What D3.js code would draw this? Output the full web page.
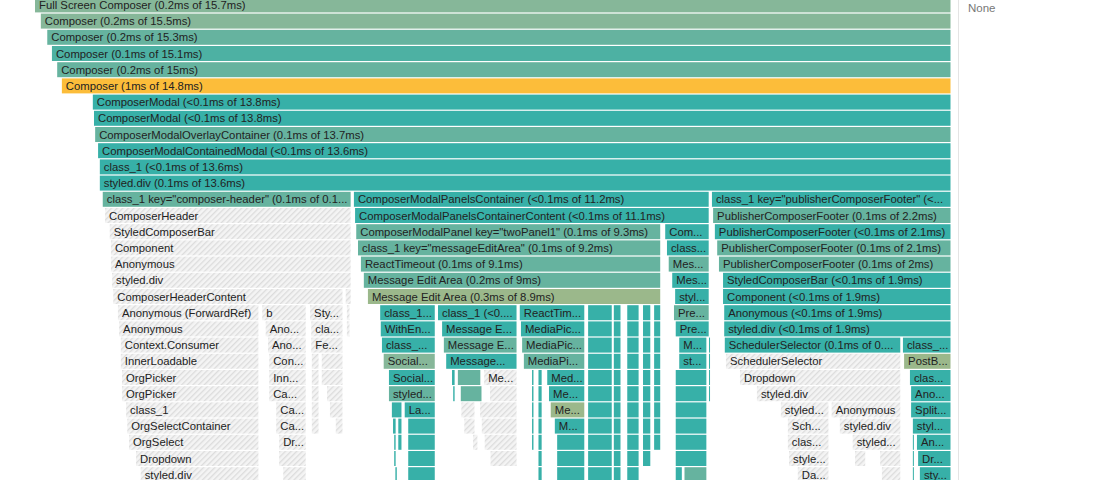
<!DOCTYPE html>
<html><head><meta charset="utf-8">
<script src="https://cdn.jsdelivr.net/npm/d3@7/dist/d3.min.js"></script>
<style>body{margin:0;background:#fff;overflow:hidden}svg{display:block}</style>
</head><body><svg id="c" width="1111" height="480"></svg>
<script>
// [depth, startMs, endMs, label, kind]  kind: g1,g2,t,y,o,h
const totalMs = 15.7;
const topFrames = [
 [0,0,15.7,"Full Screen Composer (0.2ms of 15.7ms)","g1"],
 [1,0.10,15.7,"Composer (0.2ms of 15.5ms)","g1"],
 [2,0.21,15.7,"Composer (0.2ms of 15.3ms)","g2"],
 [3,0.29,15.7,"Composer (0.1ms of 15.1ms)","t2"],
 [4,0.38,15.7,"Composer (0.2ms of 15ms)","g2"],
 [5,0.46,15.7,"Composer (1ms of 14.8ms)","y"],
 [6,0.99,15.7,"ComposerModal (<0.1ms of 13.8ms)","t"],
 [7,1.01,15.7,"ComposerModal (<0.1ms of 13.8ms)","t"],
 [8,1.03,15.7,"ComposerModalOverlayContainer (0.1ms of 13.7ms)","g2"],
 [9,1.08,15.7,"ComposerModalContainedModal (<0.1ms of 13.6ms)","t"],
 [10,1.11,15.7,"class_1 (<0.1ms of 13.6ms)","t"],
 [11,1.11,15.7,"styled.div (0.1ms of 13.6ms)","t"]
];
const headerFrames = [
 [12,1.16,5.43,"class_1 key=\"composer-header\" (0.1ms of 0.1ms)","g2"],
 [13,1.20,5.43,"ComposerHeader","h"],
 [14,1.28,5.43,"StyledComposerBar","h"],
 [15,1.30,5.43,"Component","h"],
 [16,1.30,5.43,"Anonymous","h"],
 [17,1.32,5.43,"styled.div","h"],
 [18,1.34,5.29,"ComposerHeaderContent","h"],[18,5.32,5.43,"","h"],
 [19,1.42,3.85,"Anonymous (ForwardRef)","h"],[19,3.89,4.66,"b","h"],[19,4.71,5.29,"StyledFeedback","h"],[19,5.34,5.41,"","h"],
 [20,1.44,3.85,"Anonymous","h"],[20,3.95,4.66,"Anonymous","h"],[20,4.73,5.29,"class_1","h"],[20,5.34,5.41,"","h"],
 [21,1.47,3.85,"Context.Consumer","h"],[21,3.99,4.66,"Anonymous","h"],[21,4.73,5.29,"Feedback","h"],
 [22,1.47,3.85,"InnerLoadable","h"],[22,4.01,4.66,"Context.Consumer","h"],[22,4.74,4.88,"","h"],[22,4.91,5.29,"","h"],
 [23,1.49,3.85,"OrgPicker","h"],[23,4.01,4.66,"InnerLoadable","h"],[23,4.74,4.88,"","h"],[23,4.91,5.29,"","h"],
 [24,1.49,3.85,"OrgPicker","h"],[24,4.01,4.66,"CampaignSelector","h"],[24,4.74,4.88,"","h"],[24,5.0,5.29,"","h"],
 [25,1.56,3.85,"class_1","h"],[25,4.13,4.66,"CampaignSelector","h"],[25,4.74,4.88,"","h"],[25,5.05,5.29,"","h"],
 [26,1.58,3.85,"OrgSelectContainer","h"],[26,4.13,4.66,"CampaignSelect","h"],[26,4.74,4.88,"","h"],[26,5.15,5.29,"","h"],
 [27,1.61,3.85,"OrgSelect","h"],[27,4.18,4.66,"Dropdown","h"],
 [28,1.73,3.85,"Dropdown","h"],[28,4.18,4.66,"","h"],
 [29,1.81,3.85,"styled.div","h"],[29,4.25,4.66,"","h"]
];
const editFrames = [
 [12,5.46,11.56,"ComposerModalPanelsContainer (<0.1ms of 11.2ms)","t"],
 [13,5.48,11.56,"ComposerModalPanelsContainerContent (<0.1ms of 11.1ms)","t"],
 [14,5.50,10.73,"ComposerModalPanel key=\"twoPanel1\" (0.1ms of 9.3ms)","g2"],[14,10.79,11.56,"ComposerModalPanel","t"],
 [15,5.53,10.73,"class_1 key=\"messageEditArea\" (0.1ms of 9.2ms)","g2"],[15,10.82,11.56,"class_1 key","t"],
 [16,5.58,10.73,"ReactTimeout (0.1ms of 9.1ms)","g2"],[16,10.85,11.56,"MessageSidebar","g2"],
 [17,5.63,10.73,"Message Edit Area (0.2ms of 9ms)","g2"],[17,10.91,11.56,"MessageSidebar","t"],
 [18,5.70,10.73,"Message Edit Area (0.3ms of 8.9ms)","o"],[18,10.96,11.56,"styled.div","t"],
 [19,5.91,6.87,"class_1 key","t"],[19,6.90,8.27,"class_1 (<0.1ms of 1.2ms)","t"],[19,8.30,9.43,"ReactTimeout","t"],[19,10.94,11.56,"Preview","g2"],
 [20,5.92,6.87,"WithEntities","t"],[20,6.97,8.27,"Message Editor","t"],[20,8.32,9.43,"MediaPicker","t"],[20,10.97,11.56,"Preview","t"],
 [21,5.94,6.87,"class_1 key","t"],[21,7.00,8.27,"Message Editor","g2"],[21,8.34,9.43,"MediaPicker","g2"],[21,11.03,11.52,"Message","t"],[21,11.54,11.56,"","t"],
 [22,5.97,6.87,"Social Network","g1"],[22,7.04,8.27,"Message Editor","t"],[22,8.37,9.43,"MediaPicker","g2"],[22,11.03,11.52,"styled.div","t"],[22,11.54,11.56,"","t"],
 [23,6.06,6.87,"Social Icon","t"],[23,7.14,7.21,"","t"],[23,7.24,7.65,"","g2"],[23,7.69,8.27,"Message","h"],[23,8.51,8.56,"","t"],[23,8.62,8.70,"","t"],[23,8.77,9.43,"MediaPicker","t"],[23,10.97,11.52,"","t"],[23,11.54,11.56,"","t"],
 [24,6.06,6.87,"styled.div","g2"],[24,7.16,7.21,"","t"],[24,7.29,7.67,"","g2"],[24,7.79,8.27,"","h"],[24,8.51,8.56,"","t"],[24,8.62,8.70,"","t"],[24,8.80,9.43,"MediaPicker","t"],[24,10.97,11.52,"","t"],[24,11.54,11.56,"","t"],
 [25,6.11,6.30,"","t"],[25,6.33,6.87,"Label","t"],[25,7.30,7.55,"","h"],[25,7.62,8.27,"","h"],[25,8.51,8.56,"","t"],[25,8.62,8.70,"","t"],[25,8.83,9.43,"Media","o"],[25,10.97,11.52,"","t"],
 [26,6.13,6.20,"","t"],[26,6.22,6.30,"","t"],[26,6.39,6.87,"","t"],[26,7.35,7.55,"","h"],[26,7.65,8.27,"","h"],[26,8.51,8.56,"","t"],[26,8.62,8.70,"","t"],[26,8.90,9.43,"Media","t"],[26,10.97,11.52,"","t"],
 [27,6.15,6.20,"","t"],[27,6.22,6.30,"","t"],[27,6.39,6.87,"","t"],[27,7.50,7.60,"","h"],[27,7.70,8.27,"","h"],[27,8.51,8.56,"","t"],[27,8.62,8.70,"","t"],[27,8.94,9.43,"","t"],[27,10.97,11.52,"","t"],
 [28,6.15,6.20,"","t"],[28,6.39,6.87,"","t"],[28,7.80,8.27,"","h"],[28,8.62,8.70,"","t"],[28,8.94,9.43,"","t"],[28,10.97,11.52,"","t"],
 [29,6.17,6.22,"","t"],[29,6.39,6.87,"","t"],[29,8.62,8.70,"","t"],[29,8.94,9.43,"","t"],[29,10.97,11.10,"","t"],[29,11.12,11.52,"","g2"]
];
const columnFrames = [ // [fromDepth,toDepth,start,end,kind]
 [19,29,9.47,9.90,"t"],[19,29,9.91,10.05,"t"],[19,29,10.14,10.36,"t"],[19,28,10.41,10.56,"t"],[19,27,10.60,10.73,"t"]
];
const footerFrames = [
 [12,11.59,15.7,"class_1 key=\"publisherComposerFooter\" (<0.1ms of 2.2ms)","t"],
 [13,11.61,15.7,"PublisherComposerFooter (0.1ms of 2.2ms)","g2"],
 [14,11.64,15.7,"PublisherComposerFooter (<0.1ms of 2.1ms)","t"],
 [15,11.68,15.7,"PublisherComposerFooter (0.1ms of 2.1ms)","g2"],
 [16,11.71,15.7,"PublisherComposerFooter (0.1ms of 2ms)","g2"],
 [17,11.78,15.7,"StyledComposerBar (<0.1ms of 1.9ms)","t"],
 [18,11.78,15.7,"Component (<0.1ms of 1.9ms)","t"],
 [19,11.80,15.7,"Anonymous (<0.1ms of 1.9ms)","t"],
 [20,11.80,15.7,"styled.div (<0.1ms of 1.9ms)","t"],
 [21,11.81,14.84,"SchedulerSelector (0.1ms of 0.1ms)","t"],[21,14.86,15.7,"class_1 key","t"],
 [22,11.83,14.84,"SchedulerSelector","h"],[22,14.88,15.7,"PostButton","o"],
 [23,12.07,14.84,"Dropdown","h"],[23,14.98,15.7,"class_1","t"],
 [24,12.36,14.84,"styled.div","h"],[24,15.00,15.7,"Anonymous","t"],
 [25,12.77,13.61,"styled.div","h"],[25,13.64,14.84,"Anonymous","h"],[25,15.00,15.7,"SplitButton","t"],
 [26,12.89,13.61,"SchedulerDate","h"],[26,13.78,14.84,"styled.div","h"],[26,15.03,15.7,"styled.div","t"],
 [27,12.89,13.61,"class_1","h"],[27,14.00,14.84,"styled.div","h"],[27,15.03,15.07,"","t"],[27,15.10,15.7,"Anonymous","t"],
 [28,12.91,13.61,"styled.div","h"],[28,14.04,14.24,"","h"],[28,14.47,14.84,"","h"],[28,15.03,15.07,"","t"],[28,15.12,15.7,"Dropdown","t"],
 [29,13.06,13.61,"DatePicker","h"],[29,14.50,14.84,"","h"],[29,15.03,15.07,"","t"],[29,15.15,15.7,"styled.div","t"]
];
const colors = {g1:"#86b799",g2:"#66b39f",t:"#37b0a8",t2:"#4db1a3",y:"#fcbd3a",o:"#9bb88b",h:"url(#hatch)"};

const svg = d3.select("#c");
const defs = svg.append("defs");
const pat = defs.append("pattern").attr("id","hatch").attr("patternUnits","userSpaceOnUse")
  .attr("width",4).attr("height",4).attr("patternTransform","rotate(45)");
pat.append("rect").attr("width",4).attr("height",4).attr("fill","#f4f4f4");
pat.append("rect").attr("width",1.3).attr("height",4).attr("fill","#dcdcdc");

const x = d3.scaleLinear().domain([0,totalMs]).range([35,952]);
const y = d3.scaleLinear().domain([0,1]).range([-2.6,13.6]);
const rowH = 15;

const cols = [];
columnFrames.forEach(c=>{for(let d=c[0];d<=c[1];d++) cols.push([d,c[2],c[3],"",c[4]]);});
const all = [...topFrames,...headerFrames,...editFrames,...cols,...footerFrames];

const ctx = document.createElement("canvas").getContext("2d");
const font = "11.3px 'Liberation Sans', Arial, sans-serif";
ctx.font = font;
function fit(t,w){
  if(!t) return "";
  if(ctx.measureText(t).width<=w) return t;
  let s=t;
  while(s.length>0 && ctx.measureText(s+"...").width>w) s=s.slice(0,-1);
  return s.length? s.trimEnd()+"..." : "";
}
const g = svg.append("g").selectAll("g").data(all).join("g")
  .attr("transform",d=>`translate(${x(d[1])},${y(d[0])})`);
g.append("rect").attr("width",d=>Math.max(1,x(d[2])-x(d[1])-1.5)).attr("height",rowH)
  .attr("fill",d=>colors[d[4]]);
g.append("text").attr("x",4).attr("y",11.5).style("font",font).attr("fill","#222")
  .text(d=>fit(d[3], x(d[2])-x(d[1])-7));

svg.append("line").attr("x1",958.5).attr("x2",958.5).attr("y1",0).attr("y2",480).attr("stroke","#e4e4e4");
svg.append("text").attr("x",968).attr("y",12).style("font","11.5px 'Liberation Sans', Arial, sans-serif").attr("fill","#777").text("None");
</script></body></html>
